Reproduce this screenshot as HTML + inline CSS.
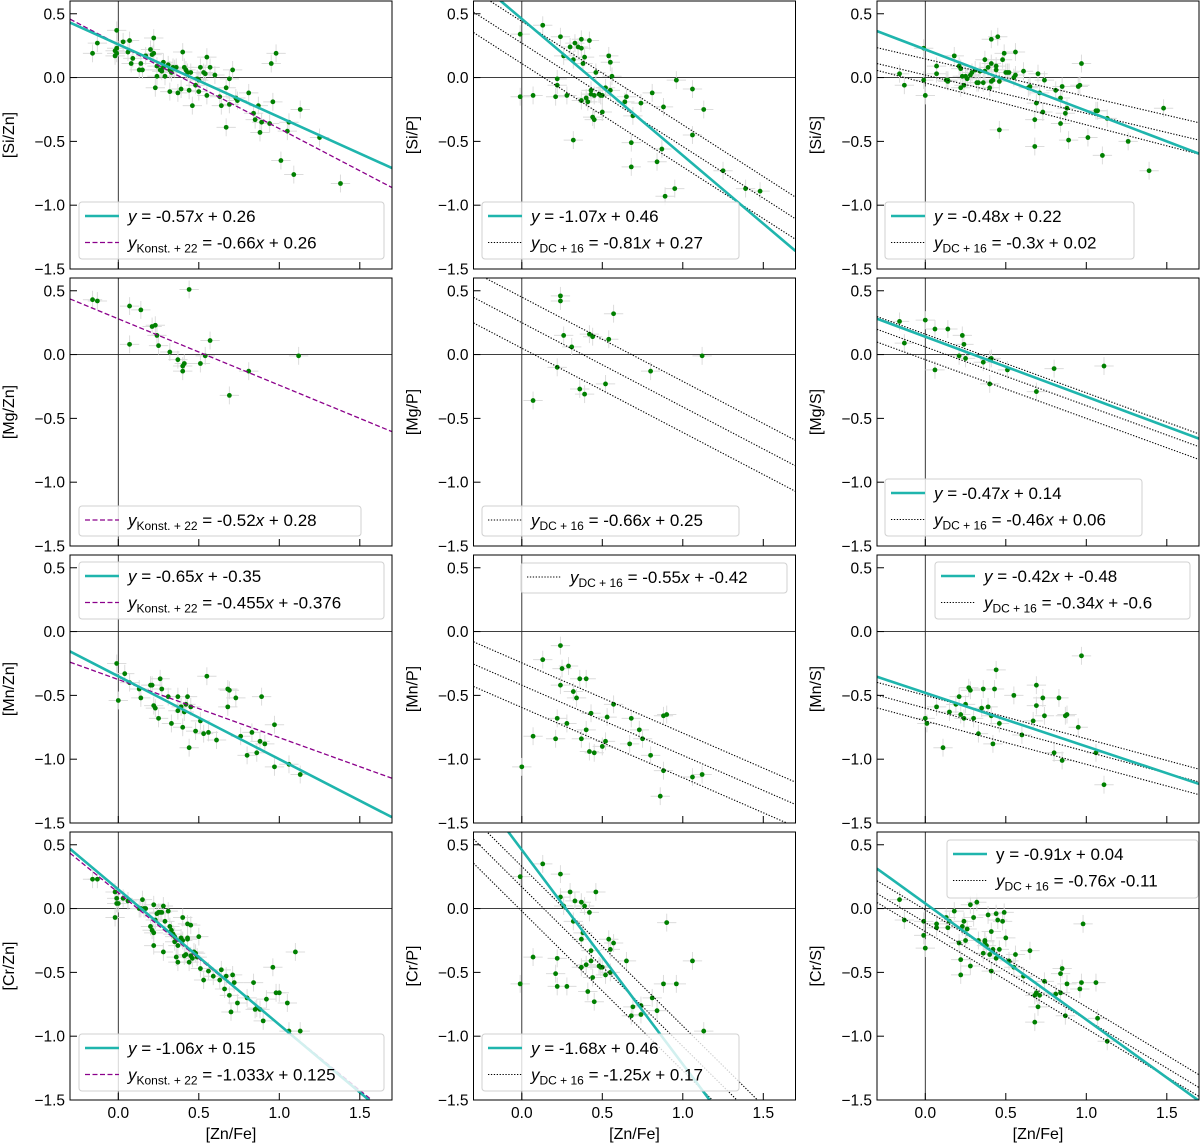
<!DOCTYPE html>
<html><head><meta charset="utf-8"><title>Abundance ratio panels</title>
<style>
html,body{margin:0;padding:0;background:#fff;width:1200px;height:1145px;overflow:hidden;}
svg{display:block;font-family:"Liberation Sans","DejaVu Sans",sans-serif;}
</style></head>
<body>
<svg id="fig" width="1200" height="1145" viewBox="0 0 1200 1145" xmlns="http://www.w3.org/2000/svg"></svg>
<script>
// ---- data ----
const siZn=[[-0.16,0.19],[-0.13,0.27],[-0.01,0.37],[-0.02,0.21],[-0.02,0.17],[-0.01,0.19],[-0.01,0.23],[0.03,0.28],[0.07,0.29],[0.06,0.20],[0.09,0.15],[0.08,0.11],[0.13,0.06],[0.14,0.11],[0.15,0.06],[0.17,0.17],[0.20,0.22],[0.21,0.18],[0.22,0.19],[0.22,0.31],[0.23,-0.08],[0.24,0.09],[0.24,0.01],[0.26,0.06],[0.27,0.05],[0.28,0.12],[0.28,0.08],[0.29,0.01],[0.31,0.10],[0.32,0.06],[0.32,-0.11],[0.33,0.04],[0.34,0.08],[0.35,0.07],[0.36,0.08],[0.37,-0.12],[0.39,-0.09],[0.40,0.20],[0.41,0.08],[0.42,0.06],[0.43,0.04],[0.44,-0.10],[0.45,0.04],[0.46,-0.22],[0.48,-0.06],[0.49,-0.01],[0.50,-0.02],[0.50,-0.11],[0.51,0.08],[0.53,0.04],[0.54,0.03],[0.55,0.16],[0.55,-0.14],[0.57,0.08],[0.60,0.02],[0.63,-0.15],[0.64,-0.22],[0.67,-0.08],[0.67,-0.39],[0.69,-0.21],[0.69,-0.01],[0.71,0.06],[0.73,-0.16],[0.74,-0.18],[0.81,-0.12],[0.84,-0.28],[0.85,-0.33],[0.87,-0.22],[0.88,-0.43],[0.89,-0.35],[0.94,-0.36],[0.95,0.11],[0.96,-0.19],[0.98,0.19],[1.01,-0.65],[1.05,-0.42],[1.06,-0.35],[1.09,-0.76],[1.13,-0.25],[1.25,-0.47],[1.38,-0.83]];
const siP=[[-0.01,0.34],[-0.01,-0.15],[0.07,-0.14],[0.13,0.41],[0.21,-0.15],[0.22,-0.01],[0.22,-0.06],[0.24,0.32],[0.26,0.17],[0.28,-0.14],[0.30,0.24],[0.32,0.14],[0.32,-0.49],[0.33,0.27],[0.35,0.24],[0.37,0.30],[0.37,0.23],[0.37,-0.18],[0.38,0.11],[0.39,0.16],[0.40,-0.16],[0.41,-0.19],[0.42,0.29],[0.43,-0.13],[0.43,-0.10],[0.44,-0.31],[0.45,-0.14],[0.45,-0.33],[0.46,0.04],[0.48,-0.13],[0.49,-0.14],[0.50,-0.27],[0.50,-0.14],[0.52,-0.08],[0.54,0.17],[0.55,0.12],[0.55,-0.10],[0.56,0.01],[0.64,-0.19],[0.65,-0.15],[0.68,-0.51],[0.68,-0.70],[0.69,-0.30],[0.74,-0.20],[0.81,-0.12],[0.84,-0.66],[0.87,-0.56],[0.88,-0.23],[0.89,-0.93],[0.95,-0.87],[0.96,-0.02],[1.06,-0.09],[1.06,-0.45],[1.13,-0.25],[1.25,-0.73],[1.39,-0.87],[1.48,-0.89]];
const siS=[[-0.16,0.03],[-0.13,-0.06],[-0.01,0.23],[-0.01,-0.02],[0.00,-0.14],[0.07,0.03],[0.07,0.09],[0.13,-0.02],[0.14,-0.03],[0.14,-0.02],[0.18,0.17],[0.21,0.09],[0.22,0.07],[0.22,-0.08],[0.23,0.01],[0.24,-0.06],[0.25,0.01],[0.26,-0.01],[0.28,0.02],[0.29,0.04],[0.31,0.06],[0.32,-0.04],[0.33,-0.04],[0.34,0.05],[0.36,-0.04],[0.37,0.14],[0.37,0.05],[0.39,0.08],[0.40,-0.08],[0.41,0.30],[0.41,0.11],[0.41,-0.03],[0.42,-0.02],[0.44,0.09],[0.44,0.06],[0.45,0.32],[0.46,-0.03],[0.46,-0.41],[0.48,0.14],[0.49,0.19],[0.50,0.04],[0.51,0.04],[0.52,0.04],[0.55,0.00],[0.56,0.02],[0.56,0.20],[0.61,0.05],[0.64,-0.08],[0.65,-0.07],[0.68,-0.33],[0.68,-0.54],[0.69,-0.20],[0.70,0.03],[0.71,-0.12],[0.73,-0.27],[0.74,-0.02],[0.81,-0.10],[0.84,-0.16],[0.84,-0.36],[0.85,-0.07],[0.87,-0.28],[0.88,-0.24],[0.89,-0.49],[0.95,-0.07],[0.96,-0.06],[0.97,0.11],[1.01,-0.47],[1.06,-0.26],[1.07,-0.26],[1.10,-0.61],[1.13,-0.32],[1.26,-0.50],[1.39,-0.73],[1.48,-0.24]];
const mgZn=[[-0.16,0.43],[-0.13,0.42],[0.07,0.38],[0.07,0.08],[0.14,0.35],[0.21,0.22],[0.23,0.23],[0.24,0.15],[0.25,0.07],[0.32,0.02],[0.37,-0.04],[0.40,-0.09],[0.40,-0.13],[0.41,-0.07],[0.44,0.51],[0.51,-0.07],[0.54,-0.01],[0.57,0.11],[0.69,-0.32],[0.81,-0.13],[1.12,-0.01]];
const mgP=[[0.07,-0.36],[0.22,-0.10],[0.24,0.46],[0.24,0.42],[0.26,0.15],[0.31,0.06],[0.36,-0.27],[0.39,-0.31],[0.42,0.16],[0.44,0.14],[0.52,-0.23],[0.54,0.12],[0.57,0.32],[0.80,-0.13],[1.12,-0.01]];
const mgS=[[-0.16,0.26],[-0.13,0.09],[0.00,0.27],[0.06,-0.12],[0.06,0.20],[0.14,0.20],[0.21,-0.01],[0.23,0.15],[0.24,0.08],[0.25,-0.03],[0.36,-0.06],[0.40,-0.23],[0.40,-0.04],[0.41,-0.03],[0.51,-0.12],[0.69,-0.29],[0.80,-0.11],[1.11,-0.09]];
const mnZn=[[-0.01,-0.25],[0.00,-0.54],[0.04,-0.33],[0.07,-0.40],[0.13,-0.45],[0.14,-0.52],[0.20,-0.42],[0.21,-0.42],[0.22,-0.58],[0.23,-0.60],[0.25,-0.68],[0.26,-0.37],[0.27,-0.45],[0.31,-0.51],[0.33,-0.72],[0.37,-0.51],[0.37,-0.62],[0.39,-0.59],[0.40,-0.75],[0.41,-0.63],[0.42,-0.57],[0.43,-0.51],[0.44,-0.91],[0.45,-0.59],[0.48,-0.78],[0.51,-0.70],[0.53,-0.80],[0.56,-0.79],[0.55,-0.35],[0.61,-0.85],[0.68,-0.45],[0.68,-0.59],[0.69,-0.46],[0.73,-0.52],[0.76,-0.82],[0.80,-0.97],[0.83,-0.79],[0.86,-0.95],[0.88,-0.86],[0.89,-0.51],[0.91,-0.88],[0.97,-1.06],[0.97,-0.73],[1.06,-1.04],[1.13,-1.12]];
const mnP=[[0.00,-1.06],[0.07,-0.82],[0.13,-0.22],[0.21,-0.84],[0.22,-0.68],[0.24,-0.11],[0.24,-0.42],[0.25,-0.29],[0.28,-0.72],[0.29,-0.27],[0.32,-0.47],[0.34,-0.52],[0.36,-0.37],[0.37,-0.84],[0.40,-0.37],[0.40,-0.77],[0.42,-0.94],[0.43,-0.64],[0.45,-0.95],[0.50,-0.90],[0.52,-0.86],[0.53,-0.67],[0.57,-0.57],[0.67,-0.88],[0.68,-0.68],[0.73,-0.77],[0.75,-0.84],[0.80,-0.97],[0.88,-0.66],[0.88,-1.09],[0.90,-0.65],[0.86,-1.29],[1.06,-1.14],[1.12,-1.12]];
const mnS=[[0.00,-0.68],[0.01,-0.72],[0.07,-0.59],[0.11,-0.91],[0.15,-0.63],[0.19,-0.57],[0.21,-0.51],[0.22,-0.65],[0.24,-0.68],[0.25,-0.57],[0.27,-0.44],[0.28,-0.46],[0.30,-0.68],[0.33,-0.80],[0.35,-0.60],[0.36,-0.45],[0.39,-0.59],[0.41,-0.66],[0.42,-0.88],[0.43,-0.45],[0.44,-0.30],[0.46,-0.72],[0.55,-0.50],[0.60,-0.81],[0.67,-0.70],[0.69,-0.42],[0.69,-0.58],[0.73,-0.52],[0.74,-0.66],[0.80,-0.95],[0.83,-0.52],[0.85,-1.01],[0.87,-0.66],[0.88,-0.65],[0.95,-0.75],[0.97,-0.19],[1.06,-0.95],[1.11,-1.20]];
const crZn=[[-0.16,0.23],[-0.13,0.23],[-0.02,0.13],[-0.02,-0.07],[-0.01,0.08],[-0.01,0.04],[0.00,0.04],[0.03,0.08],[0.06,0.06],[0.15,0.07],[0.13,0.00],[0.14,0.00],[0.16,0.00],[0.17,0.00],[0.20,-0.14],[0.21,-0.17],[0.22,-0.29],[0.22,-0.19],[0.22,0.03],[0.23,-0.09],[0.24,-0.04],[0.25,-0.03],[0.26,-0.03],[0.27,-0.03],[0.28,-0.34],[0.28,0.02],[0.29,-0.10],[0.31,-0.02],[0.32,-0.14],[0.33,-0.17],[0.34,-0.20],[0.35,-0.22],[0.35,-0.26],[0.36,-0.38],[0.37,-0.29],[0.37,-0.42],[0.39,-0.23],[0.40,-0.25],[0.40,-0.07],[0.41,-0.37],[0.42,-0.36],[0.43,-0.24],[0.43,-0.23],[0.43,-0.12],[0.44,-0.42],[0.45,-0.37],[0.45,-0.13],[0.46,-0.39],[0.47,-0.34],[0.48,-0.35],[0.49,-0.38],[0.50,-0.22],[0.51,-0.47],[0.53,-0.56],[0.56,-0.49],[0.59,-0.53],[0.63,-0.56],[0.64,-0.48],[0.66,-0.63],[0.67,-0.53],[0.69,-0.68],[0.70,-0.81],[0.71,-0.52],[0.72,-0.58],[0.74,-0.74],[0.80,-0.70],[0.84,-0.58],[0.85,-0.79],[0.86,-0.78],[0.88,-0.79],[0.90,-0.88],[0.92,-0.71],[0.96,-0.46],[0.98,-0.66],[1.00,-0.66],[1.05,-0.74],[1.10,-0.34],[1.06,-0.96],[1.13,-0.96]];
const crP=[[-0.01,0.25],[-0.01,-0.59],[0.07,-0.38],[0.13,0.35],[0.21,-0.51],[0.22,-0.39],[0.22,-0.61],[0.24,0.27],[0.24,0.09],[0.26,0.02],[0.28,-0.61],[0.30,0.13],[0.32,-0.10],[0.33,0.06],[0.37,0.05],[0.37,-0.24],[0.37,-0.46],[0.38,-0.19],[0.39,0.02],[0.40,-0.44],[0.41,-0.65],[0.42,-0.03],[0.43,-0.41],[0.43,-0.33],[0.44,-0.54],[0.45,-0.73],[0.46,0.13],[0.48,-0.45],[0.49,-0.46],[0.50,-0.46],[0.52,-0.52],[0.54,-0.24],[0.55,-0.32],[0.55,-0.50],[0.57,-0.27],[0.65,-0.41],[0.68,-0.84],[0.69,-0.77],[0.74,-0.76],[0.74,-0.83],[0.81,-0.70],[0.84,-0.80],[0.88,-0.59],[0.90,-0.11],[0.96,-0.59],[1.06,-0.41],[1.13,-0.96]];
const crS=[[-0.16,0.07],[-0.13,-0.09],[-0.01,-0.10],[-0.01,-0.21],[0.00,-0.31],[0.07,-0.12],[0.07,-0.15],[0.13,-0.07],[0.14,-0.15],[0.15,-0.10],[0.18,-0.02],[0.21,-0.27],[0.22,-0.40],[0.22,-0.52],[0.23,-0.14],[0.24,-0.10],[0.25,-0.25],[0.26,-0.16],[0.28,-0.45],[0.28,0.03],[0.30,-0.07],[0.32,0.05],[0.33,-0.25],[0.36,-0.35],[0.37,-0.25],[0.37,-0.26],[0.38,-0.29],[0.39,-0.05],[0.40,-0.36],[0.41,-0.18],[0.41,-0.49],[0.42,-0.32],[0.44,-0.39],[0.44,-0.04],[0.45,-0.09],[0.46,-0.32],[0.48,-0.10],[0.49,-0.03],[0.50,-0.23],[0.52,-0.41],[0.55,-0.46],[0.56,-0.36],[0.61,-0.53],[0.65,-0.33],[0.68,-0.89],[0.68,-0.68],[0.69,-0.66],[0.70,-0.77],[0.71,-0.68],[0.74,-0.57],[0.81,-0.67],[0.84,-0.66],[0.84,-0.51],[0.85,-0.47],[0.87,-0.84],[0.88,-0.59],[0.96,-0.63],[0.97,-0.58],[0.98,-0.12],[1.06,-0.58],[1.07,-0.86],[1.13,-1.04]];

// fit-line coefficients: [slope, intercept]
const fitSiZn=[-0.57,0.26], konSiZn=[-0.66,0.26];
const fitSiP=[-1.07,0.46], dcSiP=[-0.81,0.27], bandSiP=[0.17,-0.16];
const fitSiS=[-0.48,0.22], dcSiS=[-0.3,0.02], dcSiSup=[-0.294,0.146], dcSiSlo=[-0.3285,-0.042];
const konMgZn=[-0.52,0.28];
const dcMgP=[-0.66,0.25], bandMgP=[0.2,-0.2];
const fitMgS=[-0.47,0.14], dcMgS=[-0.46,0.06], bandMgS=[0.1,-0.1];
const fitMnZn=[-0.65,-0.35], konMnZn=[-0.455,-0.376];
const dcMnP=[-0.55,-0.42], bandMnP=[0.175,-0.175];
const fitMnS=[-0.42,-0.48], dcMnS=[-0.34,-0.6], bandMnS=[0.1,-0.1];
const fitCrZn=[-1.06,0.15], konCrZn=[-1.033,0.125];
const fitCrP=[-1.68,0.46], dcCrP=[-1.25,0.17], bandCrP=[0.16,-0.19];
const fitCrS=[-0.91,0.04], dcCrS=[-0.76,-0.11], bandCrS=[0.1,-0.07];

const yTicks=[0.5,0.0,-0.5,-1.0,-1.5];
const xTicks=[0.0,0.5,1.0,1.5];
const yTickLabels=["0.5","0.0","\u22120.5","\u22121.0","\u22121.5"];
const xTickLabels=["0.0","0.5","1.0","1.5"];

// ---- layout ----
const NS="http://www.w3.org/2000/svg";
const svg=document.getElementById('fig');
const X0=-0.3,X1=1.7,Y0=-1.5,Y1=0.6,W=322,H=268;
const colL=[70,473.5,877], rowT=[1,278,555,832];
function sx(c,v){return colL[c]+(v-X0)/(X1-X0)*W;}
function sy(r,v){return rowT[r]+(Y1-v)/(Y1-Y0)*H;}
function mk(tag,attrs,parent){const e=document.createElementNS(NS,tag);for(const k in attrs)e.setAttribute(k,attrs[k]);(parent||svg).appendChild(e);return e;}

const CYAN="#1fb5ad", PURP="#8b008b";
const L_fit=(v)=>({m:v[0],b:v[1],style:'fit'});
const L_kon=(v)=>({m:v[0],b:v[1],style:'kon'});
const L_dc=(v)=>({m:v[0],b:v[1],style:'dc'});

function eq(prefix,sub,m,b){
  let s='<tspan font-style="italic">y</tspan>';
  if(sub) s+='<tspan font-size="12" dy="4">'+sub+'</tspan><tspan dy="-4"> = '+m+'</tspan>';
  else s+=' = '+m;
  s+='<tspan font-style="italic">x</tspan> '+b;
  return s;
}

const panels=[
 {r:0,c:0,name:'si-zn',ylab:'[Si/Zn]',pts:siZn,lines:[L_kon(konSiZn),L_fit(fitSiZn)],
  leg:{x:79,y:202,w:305,h:57,items:[['fit',eq('',null,'-0.57','+ 0.26')],['kon',eq('','Konst. + 22','-0.66','+ 0.26')]]}},
 {r:0,c:1,name:'si-p',ylab:'[Si/P]',pts:siP,lines:[L_dc(dcSiP),L_dc([dcSiP[0],dcSiP[1]+bandSiP[0]]),L_dc([dcSiP[0],dcSiP[1]+bandSiP[1]]),L_fit(fitSiP)],
  leg:{x:482,y:202,w:257,h:57,items:[['fit',eq('',null,'-1.07','+ 0.46')],['dc',eq('','DC + 16','-0.81','+ 0.27')]]}},
 {r:0,c:2,name:'si-s',ylab:'[Si/S]',pts:siS,lines:[L_dc(dcSiS),L_dc(dcSiSup),L_dc(dcSiSlo),L_fit(fitSiS)],
  leg:{x:885,y:202,w:249,h:57,items:[['fit',eq('',null,'-0.48','+ 0.22')],['dc',eq('','DC + 16','-0.3','+ 0.02')]]}},
 {r:1,c:0,name:'mg-zn',ylab:'[Mg/Zn]',pts:mgZn,lines:[L_kon(konMgZn)],
  leg:{x:79,y:506,w:282,h:30,items:[['kon',eq('','Konst. + 22','-0.52','+ 0.28')]]}},
 {r:1,c:1,name:'mg-p',ylab:'[Mg/P]',pts:mgP,lines:[L_dc(dcMgP),L_dc([dcMgP[0],dcMgP[1]+bandMgP[0]]),L_dc([dcMgP[0],dcMgP[1]+bandMgP[1]])],
  leg:{x:482,y:506,w:257,h:30,items:[['dc',eq('','DC + 16','-0.66','+ 0.25')]]}},
 {r:1,c:2,name:'mg-s',ylab:'[Mg/S]',pts:mgS,lines:[L_dc(dcMgS),L_dc([dcMgS[0],dcMgS[1]+bandMgS[0]]),L_dc([dcMgS[0],dcMgS[1]+bandMgS[1]]),L_fit(fitMgS)],
  leg:{x:885,y:479,w:257,h:57,items:[['fit',eq('',null,'-0.47','+ 0.14')],['dc',eq('','DC + 16','-0.46','+ 0.06')]]}},
 {r:2,c:0,name:'mn-zn',ylab:'[Mn/Zn]',pts:mnZn,lines:[L_kon(konMnZn),L_fit(fitMnZn)],
  leg:{x:79,y:562,w:305,h:57,items:[['fit',eq('',null,'-0.65','+ -0.35')],['kon',eq('','Konst. + 22','-0.455','+ -0.376')]]}},
 {r:2,c:1,name:'mn-p',ylab:'[Mn/P]',pts:mnP,lines:[L_dc(dcMnP),L_dc([dcMnP[0],dcMnP[1]+bandMnP[0]]),L_dc([dcMnP[0],dcMnP[1]+bandMnP[1]])],
  leg:{x:521,y:563,w:266,h:30,items:[['dc',eq('','DC + 16','-0.55','+ -0.42')]]}},
 {r:2,c:2,name:'mn-s',ylab:'[Mn/S]',pts:mnS,lines:[L_dc(dcMnS),L_dc([dcMnS[0],dcMnS[1]+bandMnS[0]]),L_dc([dcMnS[0],dcMnS[1]+bandMnS[1]]),L_fit(fitMnS)],
  leg:{x:935,y:562,w:255,h:57,items:[['fit',eq('',null,'-0.42','+ -0.48')],['dc',eq('','DC + 16','-0.34','+ -0.6')]]}},
 {r:3,c:0,name:'cr-zn',ylab:'[Cr/Zn]',pts:crZn,lines:[L_kon(konCrZn),L_fit(fitCrZn)],
  leg:{x:79,y:1034,w:305,h:57,items:[['fit',eq('',null,'-1.06','+ 0.15')],['kon',eq('','Konst. + 22','-1.033','+ 0.125')]]}},
 {r:3,c:1,name:'cr-p',ylab:'[Cr/P]',pts:crP,lines:[L_dc(dcCrP),L_dc([dcCrP[0],dcCrP[1]+bandCrP[0]]),L_dc([dcCrP[0],dcCrP[1]+bandCrP[1]]),L_fit(fitCrP)],
  leg:{x:482,y:1034,w:257,h:57,items:[['fit',eq('',null,'-1.68','+ 0.46')],['dc',eq('','DC + 16','-1.25','+ 0.17')]]}},
 {r:3,c:2,name:'cr-s',ylab:'[Cr/S]',pts:crS,lines:[L_dc(dcCrS),L_dc([dcCrS[0],dcCrS[1]+bandCrS[0]]),L_dc([dcCrS[0],dcCrS[1]+bandCrS[1]]),L_fit(fitCrS)],
  leg:{x:947,y:840,w:251,h:58,items:[['fit','y = -0.91<tspan font-style="italic">x</tspan> + 0.04'],['dc',eq('','DC + 16','-0.76','-0.11')]]}}
];

function lineStyle(e,st){
  if(st==='fit'){e.setAttribute('stroke',CYAN);e.setAttribute('stroke-width','2.6');}
  else if(st==='kon'){e.setAttribute('stroke',PURP);e.setAttribute('stroke-width','1.3');e.setAttribute('stroke-dasharray','5,2.5');}
  else {e.setAttribute('stroke','#000');e.setAttribute('stroke-width','1.1');e.setAttribute('stroke-dasharray','1.3,1.6');}
}

const defs=mk('defs',{});
panels.forEach((p,i)=>{
  const {r,c}=p;
  const L=colL[c],T=rowT[r];
  const cp=mk('clipPath',{id:'cp'+i},defs);
  mk('rect',{x:L,y:T,width:W,height:H},cp);
  const g=mk('g',{});
  
  
  const inner=mk('g',{'clip-path':'url(#cp'+i+')'},g);
  const hz=mk('line',{x1:L,x2:L+W,y1:sy(r,0),y2:sy(r,0),stroke:'#222','stroke-width':0.9},inner);
  
  
  const vz=mk('line',{x1:sx(c,0),x2:sx(c,0),y1:T,y2:T+H,stroke:'#222','stroke-width':0.9},inner);
  
  
  const eg=mk('g',{stroke:'#dcdcdc','stroke-width':1},inner);
  
  
  p.pts.forEach(d=>{
    mk('line',{x1:sx(c,d[0]-0.06),x2:sx(c,d[0]+0.06),y1:sy(r,d[1]),y2:sy(r,d[1])},eg);
    mk('line',{x1:sx(c,d[0]),x2:sx(c,d[0]),y1:sy(r,d[1]-0.07),y2:sy(r,d[1]+0.07)},eg);
  });
  const pg=mk('g',{fill:'#008000'},inner);
  
  
  p.pts.forEach(d=>{
    const ci=mk('circle',{cx:sx(c,d[0]),cy:sy(r,d[1]),r:2.4},pg);
    
    
  });
  p.lines.forEach(ln=>{
    const e=mk('line',{x1:sx(c,X0),y1:sy(r,ln.m*X0+ln.b),x2:sx(c,X1),y2:sy(r,ln.m*X1+ln.b),fill:'none'},inner);
    lineStyle(e,ln.style);
    
    
  });
  const fr=mk('rect',{x:L,y:T,width:W,height:H,fill:'none',stroke:'#000','stroke-width':1},g);
  
  
  yTicks.forEach((v,k)=>{
    const y=sy(r,v);
    mk('line',{x1:L,x2:L+7,y1:y,y2:y,stroke:'#000','stroke-width':1},g);
    const t=mk('text',{x:L-5,y:y+5.5,'text-anchor':'end','font-size':15.5,fill:'#000'},g);
    t.textContent=yTickLabels[k];
    
    
  });
  xTicks.forEach((v,k)=>{
    const x=sx(c,v);
    mk('line',{x1:x,x2:x,y1:T+H,y2:T+H-7,stroke:'#000','stroke-width':1},g);
    if(r===3){
      const t=mk('text',{x:x,y:T+H+18,'text-anchor':'middle','font-size':15.5,fill:'#000'},g);
      t.textContent=xTickLabels[k];
      
      
    }
  });
  const yl=mk('text',{x:0,y:0,'text-anchor':'middle','font-size':16,fill:'#000',transform:'translate('+(L-56)+','+(T+H/2)+') rotate(-90)'},g);
  yl.textContent=p.ylab;
  
  
  if(r===3){
    const xl=mk('text',{x:L+W/2,y:T+H+39,'text-anchor':'middle','font-size':16,fill:'#000'},g);
    xl.textContent='[Zn/Fe]';
    
    
  }
  const lg=mk('g',{},g);
  
  
  const lr=p.leg;
  mk('rect',{x:lr.x,y:lr.y,width:lr.w,height:lr.h,rx:3,fill:'#fff','fill-opacity':0.8,stroke:'#d0d0d0','stroke-width':1},lg);
  lr.items.forEach((it,k)=>{
    const yy=lr.y+14+k*26.5;
    const sl=mk('line',{x1:lr.x+6,x2:lr.x+40,y1:yy,y2:yy},lg);
    lineStyle(sl,it[0]);
    const tx=mk('text',{x:lr.x+49,y:yy+6,'font-size':17,fill:'#000'},lg);
    tx.innerHTML=it[1];
    
    
  });
});
</script>
</body></html>
